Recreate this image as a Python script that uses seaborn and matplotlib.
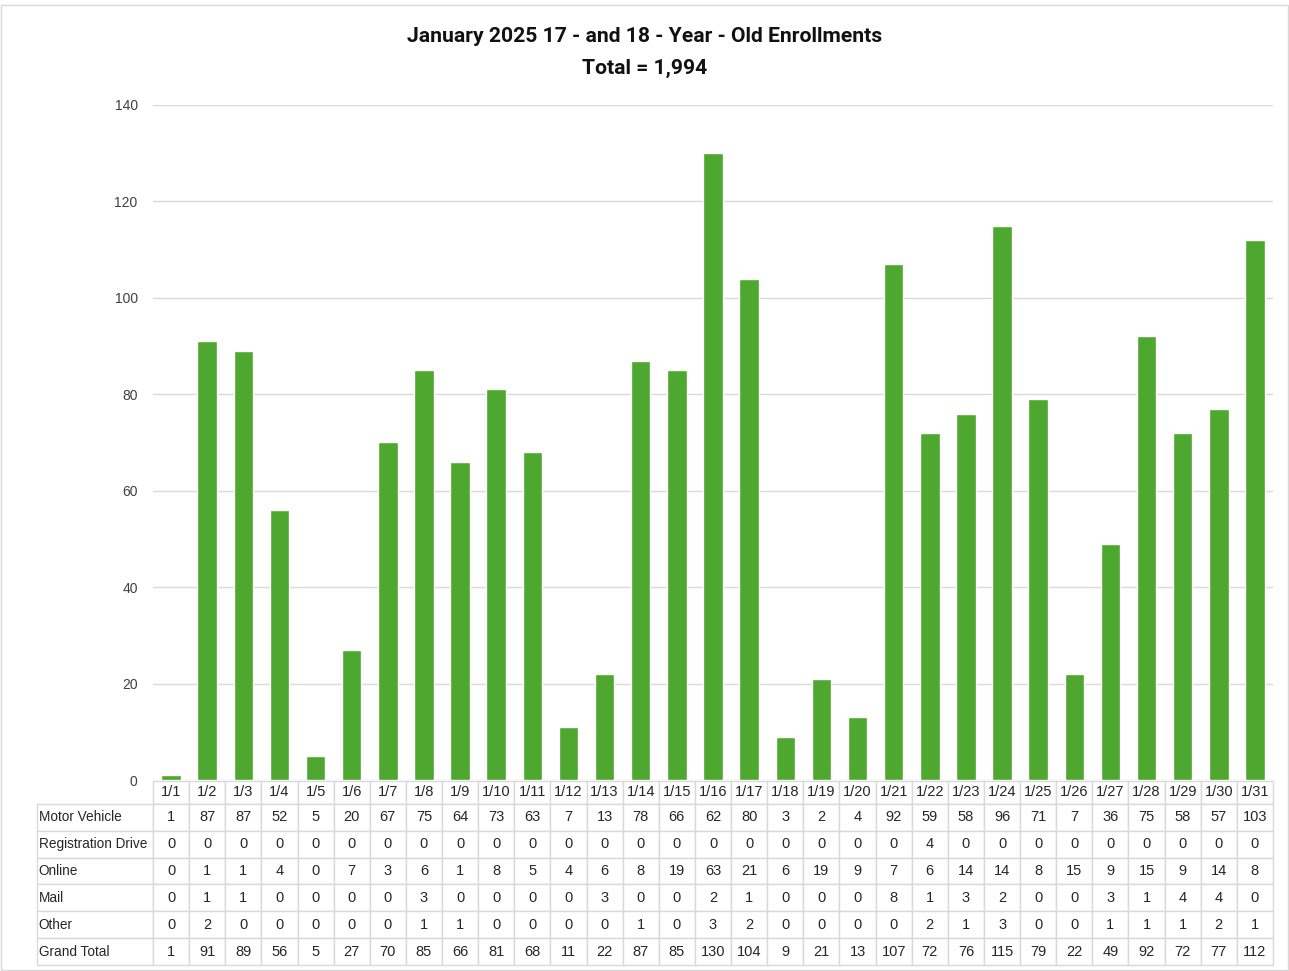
import matplotlib
matplotlib.use("Agg")
import matplotlib.pyplot as plt
import seaborn as sns
import pandas as pd
from matplotlib.patches import Rectangle

dates = ["1/%d" % d for d in range(1, 32)]
motor_vehicle = [1, 87, 87, 52, 5, 20, 67, 75, 64, 73, 63, 7, 13, 78, 66, 62, 80, 3, 2, 4,
                 92, 59, 58, 96, 71, 7, 36, 75, 58, 57, 103]
registration_drive = [0] * 21 + [4] + [0] * 9
online = [0, 1, 1, 4, 0, 7, 3, 6, 1, 8, 5, 4, 6, 8, 19, 63, 21, 6, 19, 9,
          7, 6, 14, 14, 8, 15, 9, 15, 9, 14, 8]
mail = [0, 1, 1, 0, 0, 0, 0, 3, 0, 0, 0, 0, 3, 0, 0, 2, 1, 0, 0, 0,
        8, 1, 3, 2, 0, 0, 3, 1, 4, 4, 0]
other = [0, 2, 0, 0, 0, 0, 0, 1, 1, 0, 0, 0, 0, 1, 0, 3, 2, 0, 0, 0,
         0, 2, 1, 3, 0, 0, 1, 1, 1, 2, 1]
grand_total = [1, 91, 89, 56, 5, 27, 70, 85, 66, 81, 68, 11, 22, 87, 85, 130, 104, 9, 21, 13,
               107, 72, 76, 115, 79, 22, 49, 92, 72, 77, 112]
row_names = ["Motor Vehicle", "Registration Drive", "Online", "Mail", "Other", "Grand Total"]

green = "#4EA72E"
grid_gray = "#D9D9D9"

sns.set_theme(style="white")
plt.rcParams["font.family"] = ["Liberation Sans", "DejaVu Sans"]

df = pd.DataFrame({"date": dates, "total": grand_total})

fig = plt.figure(figsize=(12.89, 9.71), dpi=100)
W, H = 1289, 971
ax_l, ax_r, ax_t, ax_b = 153, 1273, 105, 780
ax = fig.add_axes([ax_l / W, 1 - ax_b / H, (ax_r - ax_l) / W, (ax_b - ax_t) / H])

sns.barplot(data=df, x="date", y="total", color=green, saturation=1, width=0.54, ax=ax)
ax.set_xlim(-0.5, len(dates) - 0.5)
ax.set_ylim(0, 140)
ax.set_yticks(range(0, 141, 20))
ax.yaxis.grid(True, color=grid_gray, linewidth=1)
ax.set_axisbelow(True)
ax.set_xticks([])
ax.set_xlabel("")
ax.set_ylabel("")
for s in ax.spines.values():
    s.set_visible(False)
ax.tick_params(axis="y", length=0, pad=11, labelsize=10, labelcolor="#404040")

# data table under the chart
rows = [motor_vehicle, registration_drive, online, mail, other, grand_total]
cell_text = [[name] + [str(v) for v in vals] for name, vals in zip(row_names, rows)]
slot = (ax_r - ax_l) / len(dates)
label_w = ax_l - 37
tot_w = label_w + slot * len(dates)
col_widths = [label_w / tot_w] + [slot / tot_w] * len(dates)
tbl_top, tbl_bot = 781, 965
axh = ax_b - ax_t
bbox = [(37 - ax_l) / (ax_r - ax_l), (ax_b - tbl_bot) / axh,
        tot_w / (ax_r - ax_l), (tbl_bot - tbl_top) / axh]
tbl = ax.table(cellText=cell_text, colLabels=[""] + dates, colWidths=col_widths,
               cellLoc="center", bbox=bbox)
tbl.auto_set_font_size(False)
tbl.set_fontsize(10.5)
for (r, c), cell in tbl.get_celld().items():
    cell.set_edgecolor(grid_gray)
    cell.set_linewidth(1)
    cell.get_text().set_color("#262626")
    if r == 0:
        cell.set_height(cell.get_height() * 0.85)
        if c == 0:
            cell.visible_edges = ""
    if c == 0 and r > 0:
        cell.get_text().set_horizontalalignment("left")
        cell.get_text().set_fontsize(9.8)
        cell.PAD = 0.014

title_font = ["Roboto", "DejaVu Sans"]
fig.text(0.5, 1 - 36 / H, "January 2025 17 - and 18 - Year - Old Enrollments",
         ha="center", va="center", fontsize=15.2, fontweight="bold",
         family=title_font, color="#111111")
fig.text(0.5, 1 - 68 / H, "Total = 1,994", ha="center", va="center", fontsize=15.2,
         fontweight="bold", family=title_font, color="#111111")

fig.patches.append(Rectangle((0.001, 0.001), 0.998, 1 - 6 / H, transform=fig.transFigure,
                             fill=False, edgecolor=grid_gray, linewidth=1))

fig.savefig("out.png", dpi=100)
